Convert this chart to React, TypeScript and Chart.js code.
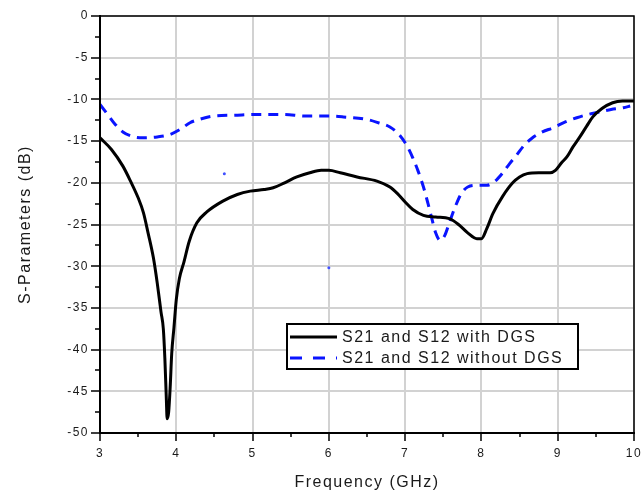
import React, { useEffect, useRef } from "react";
import { Chart, registerables } from "chart.js";

Chart.register(...registerables);

const freqWithDGS = [3.0, 3.15, 3.3, 3.4, 3.5, 3.57, 3.63, 3.7, 3.75, 3.8, 3.83, 3.85, 3.87, 3.88, 3.9, 3.92, 3.94, 3.97, 4.0, 4.04, 4.1, 4.17, 4.27, 4.4, 4.61, 4.8, 4.97, 5.15, 5.27, 5.42, 5.58, 5.75, 5.9, 6.0, 6.15, 6.37, 6.63, 6.8, 6.9, 7.0, 7.1, 7.24, 7.4, 7.58, 7.7, 7.82, 7.94, 8.0, 8.07, 8.15, 8.28, 8.41, 8.5, 8.6, 8.75, 8.9, 8.97, 9.05, 9.12, 9.2, 9.29, 9.38, 9.46, 9.58, 9.72, 9.85, 10.0];
const s21WithDGS = [-14.6, -16.0, -18.0, -19.8, -21.8, -23.6, -26.0, -29.0, -32.0, -35.5, -37.5, -41.0, -46.0, -48.3, -47.5, -44.5, -40.5, -37.3, -34.0, -31.5, -29.5, -27.0, -24.8, -23.5, -22.2, -21.4, -21.0, -20.8, -20.6, -20.0, -19.3, -18.8, -18.5, -18.5, -18.8, -19.3, -19.8, -20.5, -21.3, -22.3, -23.2, -23.9, -24.1, -24.3, -25.0, -26.0, -26.7, -26.7, -25.5, -23.7, -21.6, -20.0, -19.3, -18.9, -18.8, -18.8, -18.5, -17.6, -16.9, -15.7, -14.5, -13.2, -12.1, -11.1, -10.4, -10.2, -10.2];

const freqWithoutDGS = [3.0, 3.1, 3.2, 3.3, 3.45, 3.57, 3.75, 3.92, 4.05, 4.18, 4.3, 4.48, 4.75, 5.05, 5.4, 5.7, 6.0, 6.19, 6.5, 6.65, 6.8, 6.92, 7.02, 7.1, 7.17, 7.24, 7.3, 7.35, 7.4, 7.46, 7.52, 7.59, 7.66, 7.73, 7.82, 7.95, 8.07, 8.18, 8.28, 8.37, 8.46, 8.56, 8.67, 8.8, 8.94, 9.1, 9.25, 9.4, 9.55, 9.7, 9.86, 9.95];
const s21WithoutDGS = [-10.6, -11.8, -13.0, -13.9, -14.5, -14.6, -14.5, -14.2, -13.6, -12.8, -12.4, -12.0, -11.9, -11.8, -11.8, -12.0, -12.0, -12.1, -12.4, -12.8, -13.3, -14.2, -15.5, -17.0, -18.6, -20.5, -22.5, -24.3, -26.0, -26.9, -26.3, -24.5, -22.8, -21.4, -20.5, -20.3, -20.3, -19.8, -18.8, -17.7, -16.7, -15.5, -14.6, -13.9, -13.4, -12.7, -12.2, -11.8, -11.5, -11.2, -11.0, -10.8];

const strayFreq = [4.63, 6.0];
const strayValue = [-18.9, -30.2];

const xTicks = [3, 4, 5, 6, 7, 8, 9, 10];
const yTicks = [0, -5, -10, -15, -20, -25, -30, -35, -40, -45, -50];

const seriesLabels = ["S21 and S12 with DGS", "S21 and S12 without DGS"];

const FONT = '"Liberation Sans", Arial, sans-serif';
const TEXT = "#1a1a1a";

const framePlugin = {
  id: "frame",
  beforeDraw(chart: any) {
    chart.ctx.letterSpacing = "1.5px";
  },
  afterDatasetsDraw(chart: any) {
    const ctx = chart.ctx;
    const { left, right, top, bottom } = chart.chartArea;
    const xs = chart.scales.x;
    const ys = chart.scales.y;
    ctx.save();
    ctx.strokeStyle = "#000";
    // frame
    ctx.lineWidth = 1.5;
    ctx.beginPath();
    ctx.moveTo(left, top);
    ctx.lineTo(right, top);
    ctx.lineTo(right, bottom);
    ctx.stroke();
    ctx.lineWidth = 2;
    ctx.beginPath();
    ctx.moveTo(left, top - 1);
    ctx.lineTo(left, bottom);
    ctx.lineTo(right + 1, bottom);
    ctx.stroke();
    // ticks
    ctx.lineWidth = 1.5;
    ctx.beginPath();
    for (let v = 3; v <= 10.001; v += 0.5) {
      const px = Math.round(xs.getPixelForValue(v));
      const major = Math.abs(v - Math.round(v)) < 1e-6;
      ctx.moveTo(px, bottom);
      ctx.lineTo(px, bottom + (major ? 8 : 4));
    }
    for (let v = -50; v <= 0.001; v += 2.5) {
      const py = Math.round(ys.getPixelForValue(v));
      const major = Math.abs(v / 5 - Math.round(v / 5)) < 1e-6;
      ctx.moveTo(left, py);
      ctx.lineTo(left - (major ? 9 : 5), py);
    }
    ctx.stroke();

    // legend
    const boxL = left + 187;
    const boxT = top + 308;
    const boxW = 291;
    const boxH = 45;
    ctx.fillStyle = "#fff";
    ctx.fillRect(boxL, boxT, boxW, boxH);
    ctx.lineWidth = 2;
    ctx.strokeStyle = "#000";
    ctx.strokeRect(boxL, boxT, boxW, boxH);
    const row1 = boxT + 13;
    const row2 = boxT + 34;
    const ds = chart.data.datasets;
    ctx.lineWidth = 3;
    ctx.strokeStyle = ds[0].borderColor;
    ctx.beginPath();
    ctx.moveTo(boxL + 3, row1);
    ctx.lineTo(boxL + 50, row1);
    ctx.stroke();
    ctx.strokeStyle = ds[1].borderColor;
    ctx.setLineDash([12, 11]);
    ctx.beginPath();
    ctx.moveTo(boxL + 3, row2);
    ctx.lineTo(boxL + 50, row2);
    ctx.stroke();
    ctx.setLineDash([]);
    ctx.fillStyle = TEXT;
    ctx.font = `16px ${FONT}`;
    ctx.textBaseline = "middle";
    ctx.textAlign = "left";
    ctx.letterSpacing = "1.5px";
    ctx.fillText(ds[0].label, boxL + 55, row1 + 1);
    ctx.fillText(ds[1].label, boxL + 55, row2 + 1);
    ctx.restore();
  },
};

export default function App() {
  const canvasRef = useRef<HTMLCanvasElement | null>(null);

  useEffect(() => {
    const canvas = canvasRef.current;
    if (!canvas) return;
    const zeroPad = (s: any) => {
      s.paddingLeft = 0;
      s.paddingRight = 0;
      s.paddingTop = 0;
      s.paddingBottom = 0;
    };
    const chart = new Chart(canvas, {
      type: "line",
      data: {
        datasets: [
          {
            label: seriesLabels[0],
            data: freqWithDGS.map((f, i) => ({ x: f, y: s21WithDGS[i] })),
            borderColor: "#000000",
            borderWidth: 3,
            pointRadius: 0,
            cubicInterpolationMode: "monotone",
            fill: false,
          },
          {
            label: seriesLabels[1],
            data: freqWithoutDGS.map((f, i) => ({ x: f, y: s21WithoutDGS[i] })),
            borderColor: "#0a14ff",
            borderWidth: 3,
            borderDash: [10, 7],
            pointRadius: 0,
            cubicInterpolationMode: "monotone",
            fill: false,
          },
          {
            label: "stray",
            data: strayFreq.map((f, i) => ({ x: f, y: strayValue[i] })),
            showLine: false,
            pointRadius: 1.5,
            pointBorderWidth: 0,
            pointBackgroundColor: "#4050ff",
            borderColor: "#4050ff",
          },
        ],
      },
      options: {
        responsive: false,
        animation: false,
        layout: { padding: { top: 16, right: 8, left: 0, bottom: 0 } },
        plugins: {
          legend: { display: false },
          tooltip: { enabled: false },
        },
        scales: {
          x: {
            type: "linear",
            min: 3,
            max: 10,
            afterBuildTicks: (s: any) => {
              s.ticks = xTicks.map((v) => ({ value: v }));
            },
            afterFit: (s: any) => {
              s.height = 58;
              zeroPad(s);
            },
            ticks: {
              color: TEXT,
              font: { size: 12, family: FONT },
              padding: 13,
              maxRotation: 0,
              autoSkip: false,
            },
            grid: { color: "#d2d2d2", lineWidth: 2, drawTicks: false },
            border: { display: false },
            title: {
              display: true,
              text: "Frequency (GHz)",
              color: TEXT,
              font: { size: 16, family: FONT, lineHeight: 1.1 },
              padding: { top: 0, bottom: 0 },
            },
          },
          y: {
            type: "linear",
            min: -50,
            max: 0,
            afterBuildTicks: (s: any) => {
              s.ticks = yTicks.map((v) => ({ value: v }));
            },
            afterFit: (s: any) => {
              s.width = 100;
              zeroPad(s);
            },
            ticks: {
              color: TEXT,
              font: { size: 12, family: FONT },
              padding: 11,
              autoSkip: false,
            },
            grid: { color: "#d2d2d2", lineWidth: 2, drawTicks: false },
            border: { display: false },
            title: {
              display: true,
              text: "S-Parameters (dB)",
              color: TEXT,
              font: { size: 16, family: FONT, lineHeight: 1.2 },
              padding: { top: 16, bottom: 0 },
            },
          },
        },
      },
      plugins: [framePlugin],
    } as any);
    return () => chart.destroy();
  }, []);

  return (
    <div style={{ position: "absolute", left: 0, top: 0, width: 642, height: 491, background: "#fff" }}>
      <canvas ref={canvasRef} width={642} height={491} />
    </div>
  );
}
